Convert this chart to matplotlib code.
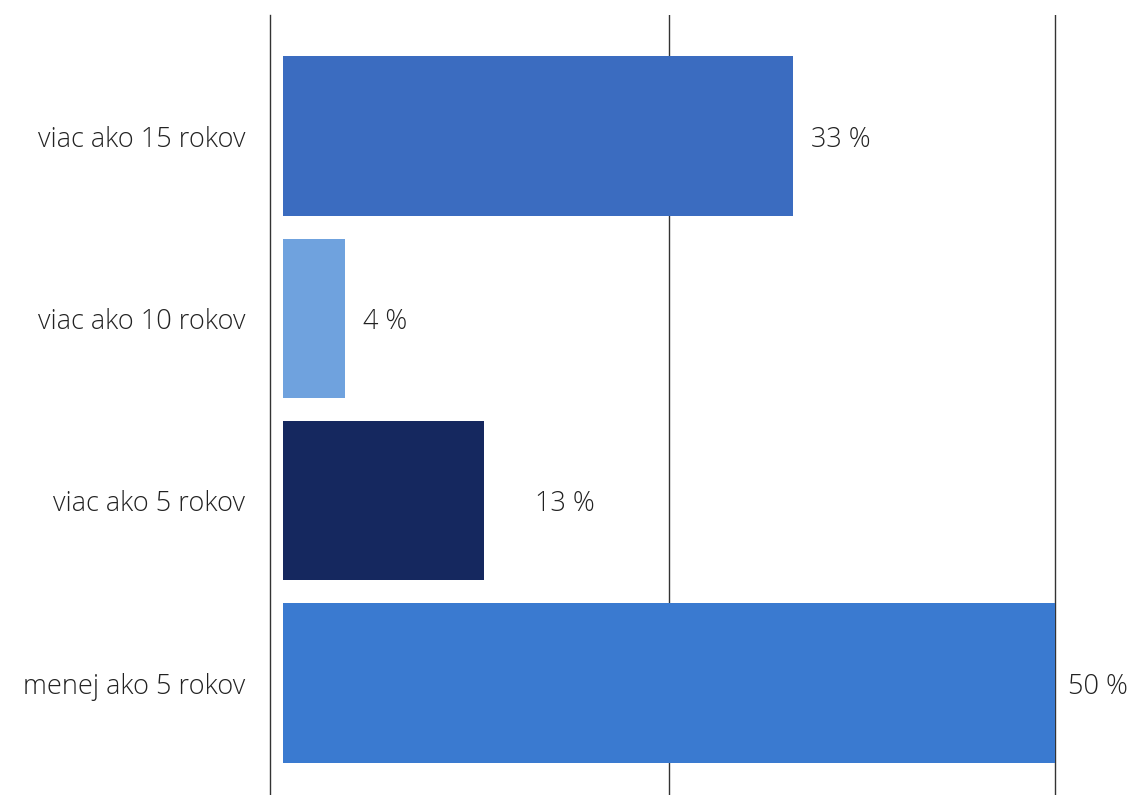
import matplotlib.pyplot as plt

categories = ["viac ako 15 rokov", "viac ako 10 rokov", "viac ako 5 rokov", "menej ako 5 rokov"]
values = [33, 4, 13, 50]
labels = ["33 %", "4 %", "13 %", "50 %"]
colors = ["#3b6cc0", "#6fa2de", "#15285f", "#3a7ad0"]
label_offsets = [1.2, 1.2, 3.3, 0.8]

plt.rcParams['font.family'] = ['Open Sans', 'DejaVu Sans']

fig = plt.figure(figsize=(11.35, 7.95), dpi=100)
ax = fig.add_axes([0.2379, 0.0, 0.76, 0.981])

pos = list(range(len(categories)))
ax.barh(pos, values, height=0.875, color=colors)

for p, v, lab, off in zip(pos, values, labels, label_offsets):
    ax.text(v + off, p + 0.02, lab, va="center", ha="left", fontsize=19.5,
            color="#222222", fontweight="light")

for gx in [25, 50]:
    ax.axvline(gx, color="#333333", lw=1.0, zorder=0)

ax.set_xlim(-0.85, 55)
ax.set_ylim(3.614, -0.663)
ax.set_yticks(pos)
ax.set_yticklabels(categories, fontsize=19.5, color="#222222", fontweight="light")
ax.tick_params(axis="y", length=0, pad=18)
ax.set_xticks([])
for s in ["top", "right", "bottom"]:
    ax.spines[s].set_visible(False)
ax.spines["left"].set_color("#333333")
ax.spines["left"].set_linewidth(1.0)

fig.savefig("out.png", dpi=100)
